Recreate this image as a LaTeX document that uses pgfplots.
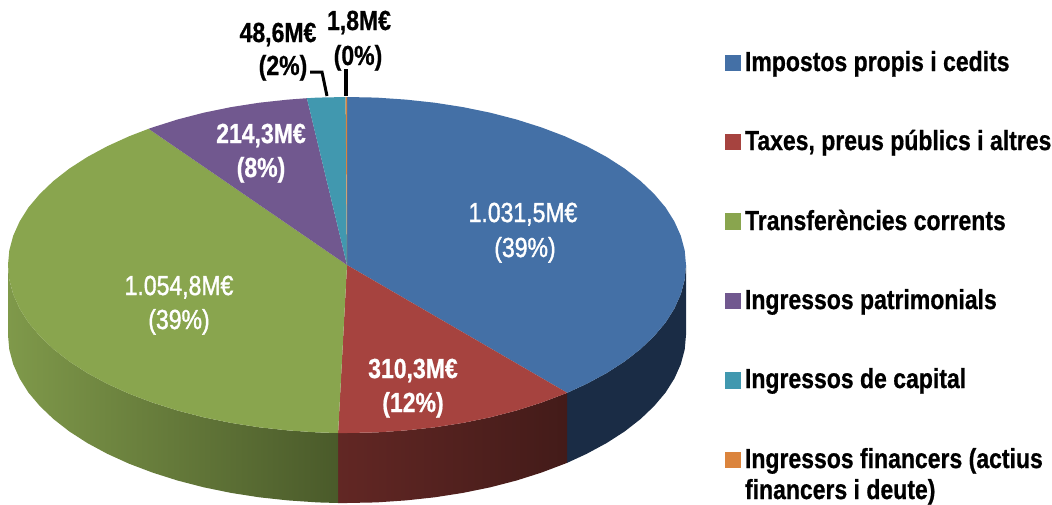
\documentclass[border=0pt]{standalone}
\usepackage{pgfplots}
\pgfplotsset{compat=1.18}
\usepackage{fontspec}
\setmainfont{Liberation Sans}[BoldFeatures={FakeBold=0.8}]
\newfontfamily\semibold[FakeBold=1.6]{Liberation Sans}
\definecolor{cblue}{HTML}{4470A6}
\definecolor{cred}{HTML}{A6433F}
\definecolor{cgreen}{HTML}{89A54E}
\definecolor{cpurple}{HTML}{71588F}
\definecolor{cteal}{HTML}{4198AF}
\definecolor{corange}{HTML}{DB843D}
\definecolor{wblue}{HTML}{1A2C45}
\definecolor{wredL}{HTML}{622724}
\definecolor{wredR}{HTML}{431B19}
\definecolor{wgreenL}{HTML}{7F994A}
\definecolor{wgreenR}{HTML}{4A5A2A}
\newcommand\st[1]{\scalebox{1}[1.2]{#1}}
\newcommand\lbb[1]{\st{\fontsize{23}{26}\selectfont\bfseries #1}}
\newcommand\lrr[1]{\st{\fontsize{23}{26}\semibold\selectfont #1}}
\begin{document}
\begin{tikzpicture}
\path[use as bounding box] (0,0) rectangle (1052pt,504pt);
\begin{axis}[
  at={(0,0)}, anchor=south west,
  scale only axis, width=1052pt, height=504pt,
  xmin=0, xmax=1052, ymin=0, ymax=504, y dir=reverse,
  hide axis, clip=false,
  every axis plot/.append style={draw=none, mark=none},
  nodes={inner sep=0pt, outer sep=0pt},
]
% side walls
\addplot[fill=wblue] coordinates {(686,265)(684.7,279.6)(680.8,294.2)(674.4,308.5)(665.6,322.5)(654.2,336)(640.6,349)(624.7,361.4)(606.7,373)(586.7,383.8)(567.2,392.8)
 (567.2,462.8)(586.7,453.8)(606.7,443)(624.7,431.4)(640.6,419)(654.2,406)(665.6,392.5)(674.4,378.5)(680.8,364.2)(684.7,349.6)(686,335)} -- cycle;
\addplot[left color=wredL, right color=wredR] coordinates {(567.2,392.8)(564.9,393.7)(541.4,402.6)(516.5,410.5)(490.3,417.3)(462.9,422.9)(434.7,427.3)(405.9,430.4)(376.5,432.4)(347,433)(338.1,433)
 (338.1,503)(347,503)(376.5,502.4)(405.9,500.4)(434.7,497.3)(462.9,492.9)(490.3,487.3)(516.5,480.5)(541.4,472.6)(564.9,463.7)(567.2,462.8)} -- cycle;
\addplot[left color=wgreenL, right color=wgreenR] coordinates {(338.1,433)(317.5,432.4)(288.1,430.4)(259.3,427.3)(231.1,422.9)(203.7,417.3)(177.5,410.5)(152.6,402.6)(129.1,393.7)(107.3,383.8)(87.3,373)(69.3,361.4)(53.4,349)(39.8,336)(28.4,322.5)(19.6,308.5)(13.2,294.2)(9.3,279.6)(8,265)
 (8,335)(9.3,349.6)(13.2,364.2)(19.6,378.5)(28.4,392.5)(39.8,406)(53.4,419)(69.3,431.4)(87.3,443)(107.3,453.8)(129.1,463.7)(152.6,472.6)(177.5,480.5)(203.7,487.3)(231.1,492.9)(259.3,497.3)(288.1,500.4)(317.5,502.4)(338.1,503)} -- cycle;
% top face
\addplot[fill=cblue] coordinates {(347,265)(347,97)(376.5,97.6)(405.9,99.6)(434.7,102.7)(462.9,107.1)(490.3,112.7)(516.5,119.5)(541.4,127.4)(564.9,136.3)(586.7,146.2)(606.7,157)(624.7,168.6)(640.6,181)(654.2,194)(665.6,207.5)(674.4,221.5)(680.8,235.8)(684.7,250.4)(686,265)(684.7,279.6)(680.8,294.2)(674.4,308.5)(665.6,322.5)(654.2,336)(640.6,349)(624.7,361.4)(606.7,373)(586.7,383.8)(567.2,392.8)} -- cycle;
\addplot[fill=cred] coordinates {(347,265)(567.2,392.8)(564.9,393.7)(541.4,402.6)(516.5,410.5)(490.3,417.3)(462.9,422.9)(434.7,427.3)(405.9,430.4)(376.5,432.4)(347,433)(338.1,433)} -- cycle;
\addplot[fill=cgreen] coordinates {(347,265)(338.1,433)(317.5,432.4)(288.1,430.4)(259.3,427.3)(231.1,422.9)(203.7,417.3)(177.5,410.5)(152.6,402.6)(129.1,393.7)(107.3,383.8)(87.3,373)(69.3,361.4)(53.4,349)(39.8,336)(28.4,322.5)(19.6,308.5)(13.2,294.2)(9.3,279.6)(8,265)(9.3,250.4)(13.2,235.8)(19.6,221.5)(28.4,207.5)(39.8,194)(53.4,181)(69.3,168.6)(87.3,157)(107.3,146.2)(129.1,136.3)(148.6,128.8)} -- cycle;
\addplot[fill=cpurple] coordinates {(347,265)(148.6,128.8)(152.6,127.4)(177.5,119.5)(203.7,112.7)(231.1,107.1)(259.3,102.7)(288.1,99.6)(306.9,98.2)} -- cycle;
\addplot[fill=cteal] coordinates {(347,265)(306.9,98.2)(317.5,97.6)(345.6,97)} -- cycle;
\addplot[fill=corange] coordinates {(347,265)(345.6,97)(347.2,97)} -- cycle;
% leader lines
\addplot[draw=black, line width=3pt] coordinates {(310,72)(322,72)(327,96)};
\addplot[draw=black, line width=3.2pt] coordinates {(346,69)(346,96)};
% legend keys
\addplot[fill=cblue] coordinates {(725,55)(741,55)(741,71)(725,71)} -- cycle;
\addplot[fill=cred] coordinates {(725,134)(741,134)(741,150)(725,150)} -- cycle;
\addplot[fill=cgreen] coordinates {(725,213)(741,213)(741,230)(725,230)} -- cycle;
\addplot[fill=cpurple] coordinates {(725,293)(741,293)(741,309)(725,309)} -- cycle;
\addplot[fill=cteal] coordinates {(725,372)(741,372)(741,389)(725,389)} -- cycle;
\addplot[fill=corange] coordinates {(725,452)(741,452)(741,468)(725,468)} -- cycle;
% legend text
\node[anchor=base west] at (axis cs:745,71) {\lbb{Impostos propis i cedits}};
\node[anchor=base west] at (axis cs:745,150) {\lbb{Taxes, preus públics i altres}};
\node[anchor=base west] at (axis cs:745,230) {\lbb{Transferències corrents}};
\node[anchor=base west] at (axis cs:745,309) {\lbb{Ingressos patrimonials}};
\node[anchor=base west] at (axis cs:745,388) {\lbb{Ingressos de capital}};
\node[anchor=base west] at (axis cs:745,468) {\lbb{Ingressos financers (actius}};
\node[anchor=base west] at (axis cs:745,499) {\lbb{financers i deute)}};
% data labels
\node[anchor=base, text=white] at (axis cs:523,222) {\lrr{1.031,5M€}};
\node[anchor=base, text=white] at (axis cs:525,257) {\lrr{(39\%)}};
\node[anchor=base, text=white] at (axis cs:413,378) {\lbb{310,3M€}};
\node[anchor=base, text=white] at (axis cs:413,412) {\lbb{(12\%)}};
\node[anchor=base, text=white] at (axis cs:179,295) {\lrr{1.054,8M€}};
\node[anchor=base, text=white] at (axis cs:179,329) {\lrr{(39\%)}};
\node[anchor=base, text=white] at (axis cs:261,143) {\lbb{214,3M€}};
\node[anchor=base, text=white] at (axis cs:261,177) {\lbb{(8\%)}};
\node[anchor=base] at (axis cs:278,42) {\lbb{48,6M€}};
\node[anchor=base] at (axis cs:283,75) {\lbb{(2\%)}};
\node[anchor=base] at (axis cs:359,30) {\lbb{1,8M€}};
\node[anchor=base] at (axis cs:358,65) {\lbb{(0\%)}};
\end{axis}
\end{tikzpicture}
\end{document}
